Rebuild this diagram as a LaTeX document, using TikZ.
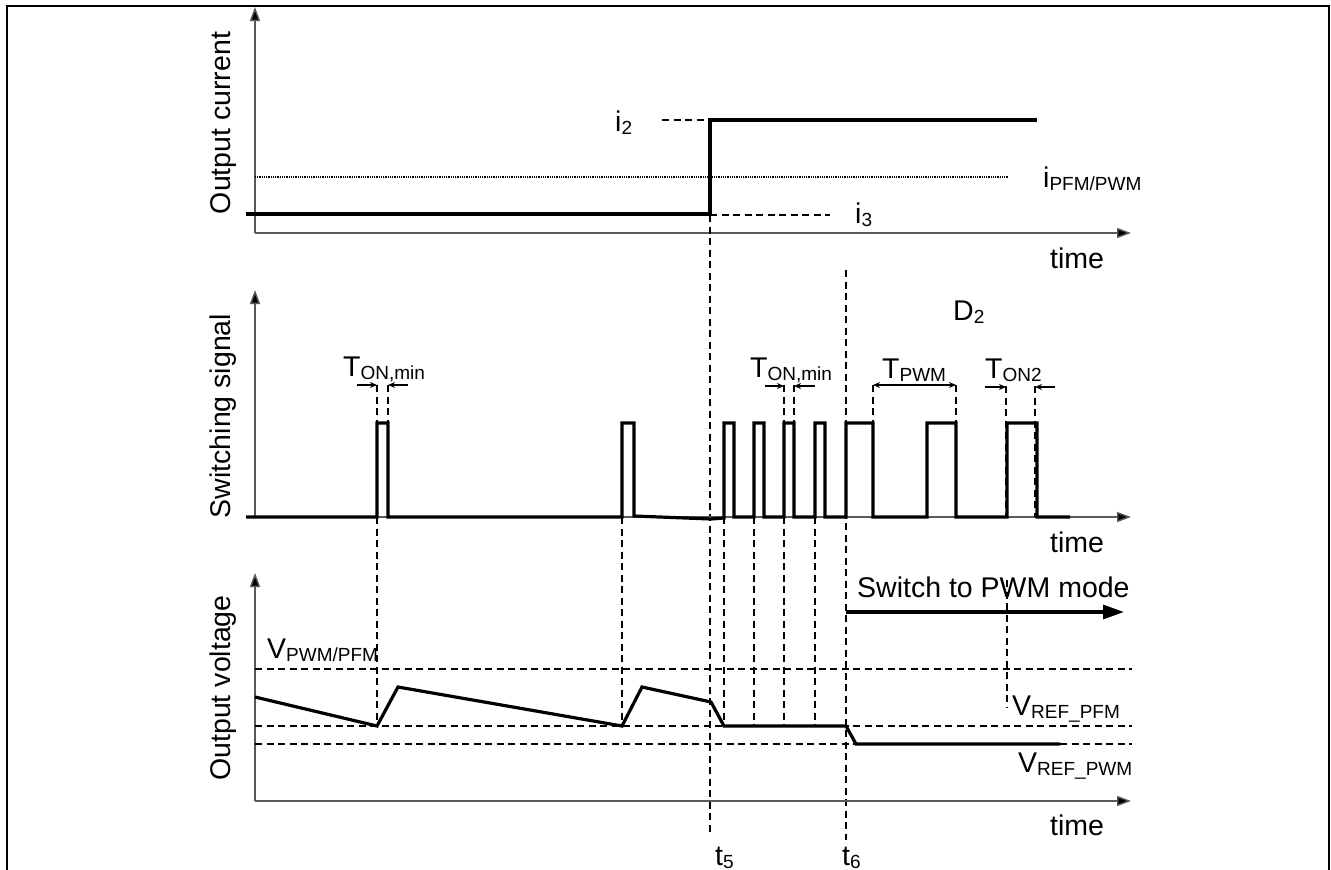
\documentclass[tikz,border=0pt]{standalone}
\usepackage{fontspec}
\setmainfont{Liberation Sans}
\usetikzlibrary{arrows.meta}
\newcommand\sbx[1]{\raisebox{-3pt}{\fontsize{19}{19}\selectfont #1}}
\begin{document}
\begin{tikzpicture}[x=1pt,y=-1pt,
  wave/.style={line width=3.2pt, line join=miter},
  axis/.style={line width=1.4pt, black!65, -{Triangle[length=14pt,width=10pt,fill=black]}},
  dline/.style={line width=1.6pt, dash pattern=on 7pt off 4.5pt},
  dotline/.style={line width=1.5pt, dash pattern=on 1pt off 0.8pt},
  lbl/.style={font=\fontsize{28.5}{30}\selectfont, inner sep=0pt, anchor=base west},
  ylbl/.style={font=\fontsize{28.5}{30}\selectfont, inner sep=0pt, anchor=base, rotate=90},
  dimarr/.style={line width=1.2pt, -{Stealth[length=7pt,width=6pt]}},
  dimdbl/.style={line width=1.2pt, {Stealth[length=7pt,width=6pt]}-{Stealth[length=7pt,width=6pt]}},
  swarr/.style={line width=3.2pt, -{Triangle[length=21pt,width=14pt]}}]
\useasboundingbox (0,0) rectangle (1331,870);
% frame
\draw[line width=1.8pt] (7,871) -- (7,6) -- (1329,6) -- (1329,871);

% ---------- top panel ----------
\coordinate (o1) at (255,233);
\draw[axis] (o1) -- (255,7);
\draw[axis] (o1) -- (1131,233);
\node[ylbl] (lc) at (230,123) {Output current};
\draw[dotline] (255,177) -- (1008,177);
\draw[dline] (662,120) -- (710,120);
\draw[dline] (710,215) -- (830,215);
\draw[dline] (710,215) -- (710,832);
\draw[dline] (846,270) -- (846,840);
\draw[wave] (246,214) -- (710,214) -- (710,120) -- (1037,120);
\node[lbl] (i2) at (615,131) {i\sbx{2}};
\node[lbl] (ipfm) at (1043,187) {i\sbx{PFM/PWM}};
\node[lbl] (i3) at (855,223) {i\sbx{3}};
\node[lbl] (tm1) at (1050,268) {time};

% ---------- middle panel ----------
\coordinate (o2) at (255,517);
\draw[axis] (o2) -- (255,290);
\draw[axis] (o2) -- (1131,517);
\node[ylbl] (ls) at (230,416) {Switching signal};
\foreach \x in {377,622,724,754,784,815}
  \draw[dline] (\x,517) -- (\x,726);
\foreach \x in {377,388,784,794,873,956}
  \draw[dline] (\x,385) -- (\x,423);
\draw[dline] (1006,386) -- (1006,517);
\draw[dline] (1035,386) -- (1035,517);
\draw[dline] (1007,580) -- (1007,707);
\draw[wave] (246,517) -- (377,517) -- (377,423) -- (388,423) -- (388,517)
  -- (622,517) -- (622,423) -- (634,423) -- (634,516) -- (711,519) -- (724,518)
  -- (724,423) -- (734,423) -- (734,517) -- (754,517) -- (754,423) -- (764,423) -- (764,517)
  -- (784,517) -- (784,423) -- (794,423) -- (794,517) -- (815,517) -- (815,423) -- (825,423) -- (825,517)
  -- (846,517) -- (846,423) -- (873,423) -- (873,517) -- (927,517) -- (927,423) -- (956,423) -- (956,517)
  -- (1007,517) -- (1007,423) -- (1037,423) -- (1037,517) -- (1070,517);
% dimension marks
\draw[dimarr] (357,385) -- (377,385);
\draw[dimarr] (408,385) -- (388,385);
\draw[dimarr] (765,386) -- (784,386);
\draw[dimarr] (815,386) -- (794,386);
\draw[dimdbl] (873,385) -- (956,385);
\draw[dimarr] (985,387) -- (1006,387);
\draw[dimarr] (1055,387) -- (1035,387);
\node[lbl] (ton1) at (343,376) {T\sbx{ON,min}};
\node[lbl] (ton2) at (750,377) {T\sbx{ON,min}};
\node[lbl] (tpwm) at (882,378) {T\sbx{PWM}};
\node[lbl] (ton3) at (985,378) {T\sbx{ON2}};
\node[lbl] (d2) at (953,320) {D\sbx{2}};
\node[lbl] (tm2) at (1050,552) {time};

% ---------- bottom panel ----------
\coordinate (o3) at (255,801);
\draw[axis] (o3) -- (255,573);
\draw[axis] (o3) -- (1131,801);
\node[ylbl] (lv) at (230,688) {Output voltage};
\draw[dline] (255,669) -- (1132,669);
\draw[dline] (255,726) -- (1132,726);
\draw[dline] (255,744) -- (1132,744);
\draw[wave] (255,697) -- (377,726) -- (398,687) -- (622,726) -- (642,687) -- (711,702)
  -- (724,726) -- (846,726) -- (856,744) -- (1060,744);
\draw[swarr] (846,612) -- (1124,612);
\node[lbl] (sw) at (857,597) {Switch to PWM mode};
\node[lbl] (vpp) at (267,658) {V\sbx{PWM/PFM}};
\node[lbl] (vrp) at (1012,715) {V\sbx{REF\_PFM}};
\node[lbl] (vrw) at (1018,772) {V\sbx{REF\_PWM}};
\node[lbl] (tm3) at (1050,835) {time};
\node[lbl] (t5) at (715,865) {t\sbx{5}};
\node[lbl] (t6) at (842,865) {t\sbx{6}};
\end{tikzpicture}
\end{document}
